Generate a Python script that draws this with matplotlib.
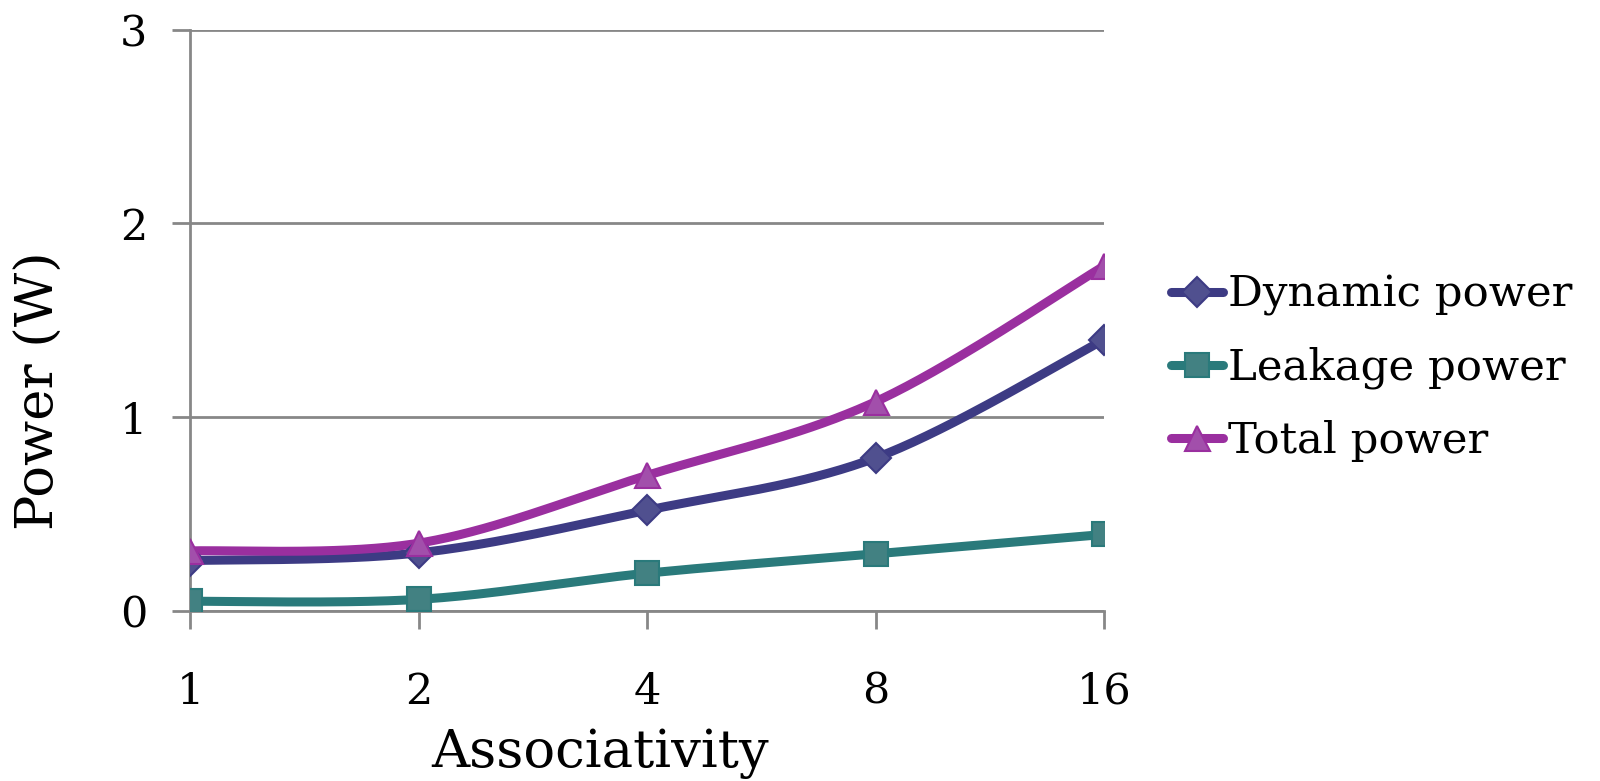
import numpy as np
import matplotlib
matplotlib.use("Agg")
import matplotlib.pyplot as plt
from matplotlib.lines import Line2D

plt.rcParams["font.family"] = ["DejaVu Serif"]

categories = ["1", "2", "4", "8", "16"]
dynamic_power = [0.26, 0.30, 0.52, 0.79, 1.40]
leakage_power = [0.05, 0.06, 0.195, 0.295, 0.395]
total_power = [0.31, 0.35, 0.70, 1.08, 1.78]


def smooth(xs, ys, n=40):
    # Excel-like smoothed line: Bezier through points, Catmull-Rom control points
    xs = np.asarray(xs, float)
    ys = np.asarray(ys, float)
    px = np.concatenate([[xs[0]], xs, [xs[-1]]])
    py = np.concatenate([[ys[0]], ys, [ys[-1]]])
    outx, outy = [], []
    t = np.linspace(0, 1, n)
    for i in range(1, len(px) - 2):
        p0 = np.array([px[i], py[i]])
        p3 = np.array([px[i + 1], py[i + 1]])
        c1 = p0 + (np.array([px[i + 1], py[i + 1]]) - np.array([px[i - 1], py[i - 1]])) / 6
        c2 = p3 - (np.array([px[i + 2], py[i + 2]]) - np.array([px[i], py[i]])) / 6
        b = ((1 - t) ** 3)[:, None] * p0 + (3 * (1 - t) ** 2 * t)[:, None] * c1 \
            + (3 * (1 - t) * t ** 2)[:, None] * c2 + (t ** 3)[:, None] * p3
        outx.extend(b[:, 0])
        outy.extend(b[:, 1])
    return outx, outy


series = [
    ("Dynamic power", dynamic_power, "#3d3b84", "#50508f", "D", 15),
    ("Leakage power", leakage_power, "#2a7a7b", "#428182", "s", 17),
    ("Total power", total_power, "#9a2f9f", "#a24fab", "^", 18),
]

fig = plt.figure(figsize=(16, 7.81), dpi=100)
ax = fig.add_axes([0.119, 0.2177, 0.571, 0.7443])

x = np.arange(len(categories))
handles = []
for name, vals, lc, mc, mk, ms in series:
    sx, sy = smooth(x, vals)
    ax.plot(sx, sy, color=lc, lw=6.5, solid_capstyle="round", zorder=3)
    ax.plot(x, vals, ls="none", marker=mk, ms=ms, mfc=mc, mec=lc, mew=1.5, zorder=4)
    handles.append(Line2D([], [], color=lc, lw=6.5, marker=mk, ms=ms, mfc=mc,
                          mec=lc, mew=1.5, solid_capstyle="round"))

ax.set_xlim(0, len(categories) - 1)
ax.set_ylim(0, 3)
ax.set_yticks([0, 1, 2, 3])
ax.set_xticks(x)
ax.set_xticklabels(categories)
ax.yaxis.grid(True, color="#878787", lw=2)
ax.set_axisbelow(True)
for s in ["top", "right"]:
    ax.spines[s].set_visible(False)
for s in ["left", "bottom"]:
    ax.spines[s].set_color("#878787")
    ax.spines[s].set_linewidth(2)
ax.tick_params(axis="both", colors="#878787", width=2, length=13, labelsize=31,
               labelcolor="black")
ax.tick_params(axis="x", pad=30)
ax.tick_params(axis="y", pad=18)

# axis titles sit off-centre in the original, so place them on the figure
fig.text(0.375, 0.035, "Associativity", fontsize=38, ha="center", va="center")
fig.text(0.0244, 0.50, "Power (W)", fontsize=38, rotation=90,
         ha="center", va="center")

fig.legend(handles=handles, labels=[s[0] for s in series], loc="center left",
           bbox_to_anchor=(0.732, 0.529), frameon=False, fontsize=31.3,
           handlelength=1.2, handletextpad=0.1, labelspacing=0.7,
           borderaxespad=0, borderpad=0)

fig.savefig("out.png", dpi=100)
